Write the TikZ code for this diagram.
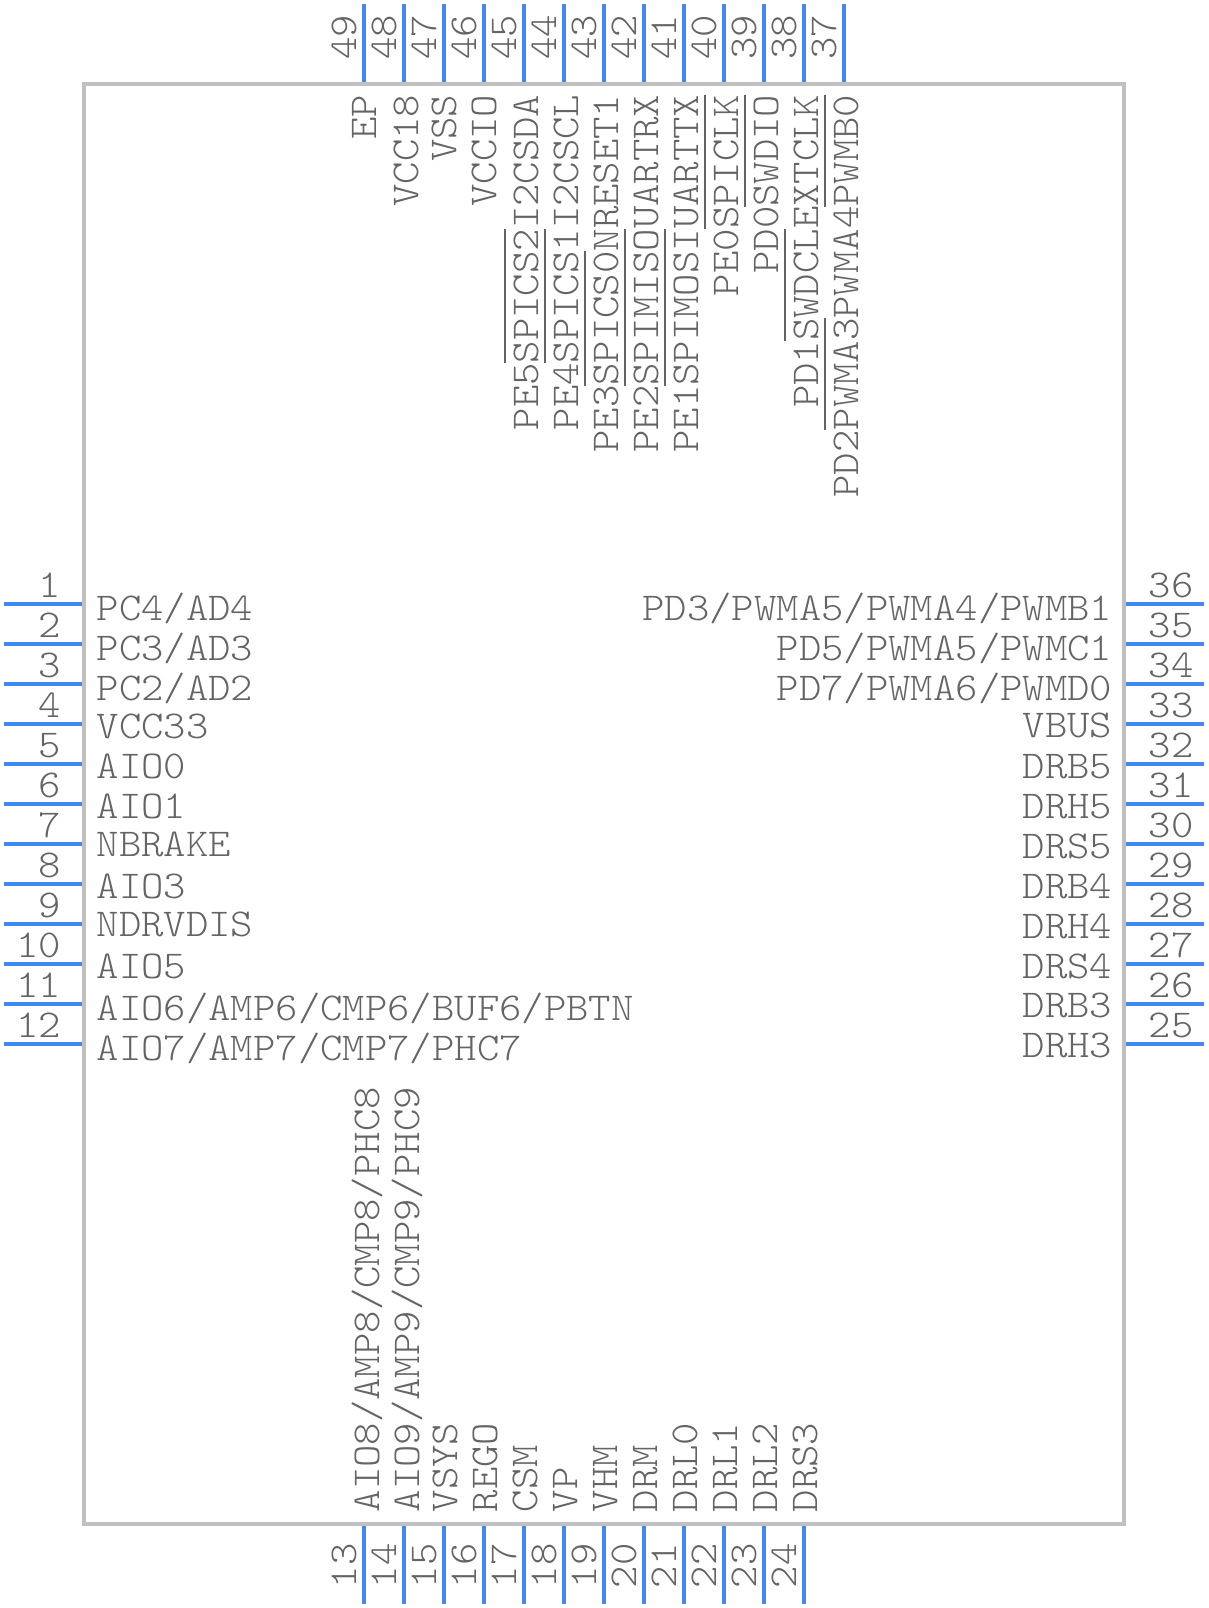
\documentclass[tikz,border=0pt]{standalone}
\usepackage{fontspec}
\setmonofont[FakeStretch=1.08]{Latin Modern Mono Light}
\definecolor{pinblue}{HTML}{4287F5}
\definecolor{boxgrey}{HTML}{C0C0C0}
\definecolor{txtgrey}{HTML}{646464}
\newsavebox{\ovlbox}
\newcommand{\ovl}[1]{\sbox{\ovlbox}{#1}\rlap{\rule[0.32cm]{\wd\ovlbox}{0.02cm}}\usebox{\ovlbox}}
\tikzset{
  lbl/.style={inner sep=0pt,text=txtgrey,font=\ttfamily\fontsize{11.22}{14}\selectfont},
  pin/.style={pinblue,line width=0.04cm}
}
\begin{document}
\begin{tikzpicture}[x=0.01cm,y=-0.01cm]
   \useasboundingbox (0,0) rectangle (1208,1608);
   % left side
   \foreach \i/\dy/\txt in {1/16/{PC4/AD4},2/16/{PC3/AD3},3/16/{PC2/AD2},4/14/VCC33,5/14/AIO0,6/14/AIO1,7/12/NBRAKE,8/14/AIO3,9/12/NDRVDIS,10/14/AIO5,11/16/{AIO6/AMP6/CMP6/BUF6/PBTN},12/16/{AIO7/AMP7/CMP7/PHC7}} {
     \draw[pin] (4,564+40*\i) -- (84,564+40*\i);
     \node[lbl,anchor=base east] (n\i) at (62,557+40*\i) {\i};
     \node[lbl,anchor=base west] (t\i) at (96,564+40*\i+\dy) {\txt};
   }
   % right side
   \foreach \i/\dy/\txt in {36/16/{PD3/PWMA5/PWMA4/PWMB1},35/16/{PD5/PWMA5/PWMC1},34/16/{PD7/PWMA6/PWMD0},33/13/VBUS,32/14/DRB5,31/14/DRH5,30/14/DRS5,29/14/DRB4,28/14/DRH4,27/14/DRS4,26/13/DRB3,25/13/DRH3} {
     \draw[pin] (1124,2044-40*\i) -- (1204,2044-40*\i);
     \node[lbl,anchor=base west] (n\i) at (1148,2037-40*\i) {\i};
     \node[lbl,anchor=base east] (t\i) at (1113,2044-40*\i+\dy) {\txt};
   }
   % bottom side
   \foreach \i/\dx/\txt in {13/15/{AIO8/AMP8/CMP8/PHC8},14/15/{AIO9/AMP9/CMP9/PHC9},15/13/VSYS,16/13/REGO,17/13/CSM,18/13/VP,19/13/VHM,20/13/DRM,21/13.5/DRL0,22/13.5/DRL1,23/13.5/DRL2,24/13.5/DRS3} {
     \draw[pin] (-156+40*\i,1524) -- (-156+40*\i,1604);
     \node[lbl,rotate=90,anchor=base west] (n\i) at (-164+40*\i,1589) {\i};
     \node[lbl,rotate=90,anchor=base west] (t\i) at (-156+40*\i+\dx,1513) {\txt};
   }
   % top side
   \foreach \i/\dx/\txt in {49/12.5/EP,48/14.5/VCC18,47/12.5/VSS,46/12.5/VCCIO,45/14.5/{PE5\ovl{SPICS2}I2CSDA},44/14.5/{PE4\ovl{SPICS1}I2CSCL},43/14.5/{PE3\ovl{SPICS0}NRESET1},42/14.5/{PE2\ovl{SPIMISO}UARTRX},41/14.5/{PE1\ovl{SPIMOSI}UARTTX},40/14.5/{PE0\ovl{SPICLK}},39/14.5/{PD0\ovl{SWDIO}},38/14.5/{PD1\ovl{SWDCL}EXTCLK},37/14.5/{PD2\ovl{PWMA3}PWMA4\ovl{PWMB0}}} {
     \draw[pin] (2324-40*\i,4) -- (2324-40*\i,84);
     \node[lbl,rotate=90,anchor=base west] (n\i) at (2316-40*\i,60.5) {\i};
     \node[lbl,rotate=90,anchor=base east] (t\i) at (2324-40*\i+\dx,94) {\txt};
   }
   \draw[boxgrey,line width=0.04cm] (84,84) rectangle (1124,1524);
\end{tikzpicture}
\end{document}
